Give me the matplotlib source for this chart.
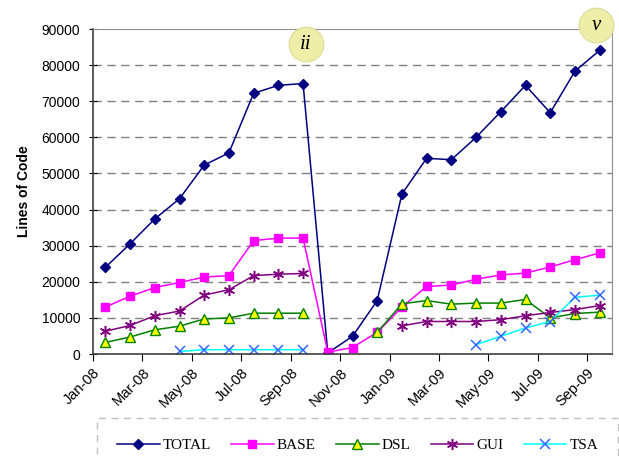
import numpy as np
import matplotlib.pyplot as plt
from matplotlib.ticker import MultipleLocator

plt.rcParams['font.family'] = ['Liberation Sans', 'DejaVu Sans']

# monthly snapshots Jan-08 .. Sep-09 (None = no measurement)
months = ['Jan-08', 'Feb-08', 'Mar-08', 'Apr-08', 'May-08', 'Jun-08', 'Jul-08',
          'Aug-08', 'Sep-08', 'Oct-08', 'Nov-08', 'Dec-08', 'Jan-09', 'Feb-09',
          'Mar-09', 'Apr-09', 'May-09', 'Jun-09', 'Jul-09', 'Aug-09', 'Sep-09']
tick_labels = months[::2]

total = [24000, 30500, 37400, 43000, 52300, 55700, 72200, 74400, 74900, 300,
         4900, 14800, 44300, 54200, 53800, 60000, 67100, 74400, 66800, 78300, 84100]
base = [13000, 16000, 18400, 19800, 21300, 21700, 31400, 32100, 32100, 500,
        1800, 6000, 13000, 18700, 19100, 20700, 21900, 22400, 24100, 26100, 28000]
dsl = [3200, 4700, 6700, 7700, 9700, 10000, 11300, 11300, 11300, None,
       None, 6000, 13900, 14800, 13800, 14100, 14100, 15100, 10000, 11200, 11600]
gui = [6300, 7900, 10600, 11900, 16300, 17800, 21700, 22100, 22300, None,
       None, None, 7800, 9000, 9000, 9000, 9500, 10600, 11500, 12300, 13400]
tsa = [None, None, None, 700, 1200, 1200, 1200, 1200, 1200, None,
       None, None, None, None, None, 2600, 4900, 7200, 9000, 15700, 16300]


def arr(v):
    return np.array([np.nan if x is None else x for x in v], dtype=float)


x = np.arange(len(months)) + 0.5

fig = plt.figure(figsize=(6.19, 4.59), dpi=100)
ax = fig.add_axes([93 / 619, 1 - 354 / 459, (612 - 93) / 619, (354 - 29) / 459])

ax.plot(x, arr(total), color='#000080', marker='D', ms=5, lw=1.1, label='TOTAL')
ax.plot(x, arr(base), color='#FF00FF', marker='s', ms=6, lw=1.1, label='BASE')
ax.plot(x, arr(dsl), color='#008000', marker='^', ms=7, mfc='#FFFF00', mec='#008000',
        lw=1.1, label='DSL')
ax.plot(x, arr(gui), color='#800080', marker=(6, 2, 0), ms=8, mew=1.1, lw=1.1,
        label='GUI')
ax.plot(x, arr(tsa), color='#00FFFF', marker='x', ms=7, mec='#3366FF', mew=1.1,
        lw=1.1, label='TSA')

ax.set_xlim(0, 21)
ax.set_ylim(0, 90000)
ax.set_xticks(np.arange(0, 21, 2))
ax.set_xticklabels(tick_labels, rotation=45, ha='right', va='top',
                   rotation_mode='anchor', fontsize=10.5)
ax.yaxis.set_major_locator(MultipleLocator(10000))
ax.tick_params(axis='y', direction='inout', length=6, labelsize=10, pad=6)
ax.tick_params(axis='x', direction='out', length=5, labelsize=10.5)
ax.set_ylabel('Lines of Code', fontsize=10, fontweight='bold', labelpad=8)

for yv in range(10000, 90000, 10000):
    ax.axhline(yv, color='#808080', lw=1, ls=(0, (6, 4)), zorder=0)

for s in ['top', 'right']:
    ax.spines[s].set_color('#909090')
for s in ['left', 'bottom']:
    ax.spines[s].set_color('#404040')
    ax.spines[s].set_linewidth(1.2)

# milestone badges
for mx, my, txt in [(8.6, 85800, 'ii'), (20.35, 91100, 'v')]:
    ax.plot(mx, my, 'o', ms=25, mfc='#eeeea8', mec='#dcdc9a', mew=0.8,
            clip_on=False, zorder=5)
    ax.text(mx, my, txt, ha='center', va='center', fontsize=15, style='italic',
            family=['Liberation Serif'], zorder=6, clip_on=False)

leg = fig.legend(loc='upper left',
                 bbox_to_anchor=(97 / 619, 1 - 423 / 459, 521 / 619, 0.01),
                 mode='expand', borderaxespad=0, ncol=5, frameon=True,
                 fancybox=False, handlelength=2.8, handletextpad=0.2,
                 borderpad=1.3, prop={'family': 'Liberation Serif', 'size': 11})
leg.get_frame().set_edgecolor('#b0b0b0')
leg.get_frame().set_linestyle((0, (5, 4)))
leg.get_frame().set_linewidth(1)

fig.savefig('out.png', dpi=100)
